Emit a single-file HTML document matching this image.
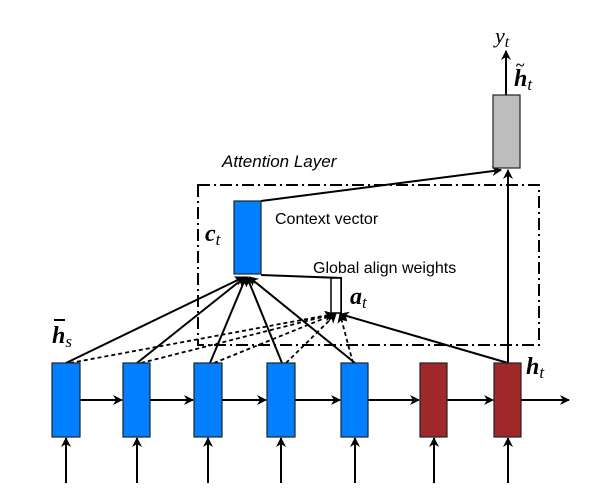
<!DOCTYPE html>
<html><head><meta charset="utf-8"><style>body{margin:0;background:#fff}svg{display:block}</style></head><body>
<svg width="613" height="502" viewBox="0 0 613 502" xmlns="http://www.w3.org/2000/svg" font-family="Liberation Sans, sans-serif">
<defs><marker id="a" markerWidth="10" markerHeight="10" refX="9" refY="5" orient="auto" markerUnits="userSpaceOnUse"><path d="M0,0 L10,5 L0,10 L3,5 z" fill="#000"/></marker></defs>
<rect x="198" y="185" width="341" height="160" fill="none" stroke="#000" stroke-width="2" stroke-dasharray="12,4,2,4"/>
<g stroke="#000" stroke-width="2" fill="none">
<line x1="80" y1="400" x2="122" y2="400" marker-end="url(#a)"/>
<line x1="150" y1="400" x2="193" y2="400" marker-end="url(#a)"/>
<line x1="222" y1="400" x2="266" y2="400" marker-end="url(#a)"/>
<line x1="295" y1="400" x2="340" y2="400" marker-end="url(#a)"/>
<line x1="368" y1="400" x2="419" y2="400" marker-end="url(#a)"/>
<line x1="447" y1="400" x2="493" y2="400" marker-end="url(#a)"/>
<line x1="521" y1="400" x2="569" y2="400" marker-end="url(#a)"/>
<line x1="66" y1="483" x2="66" y2="438" marker-end="url(#a)"/>
<line x1="137" y1="483" x2="137" y2="438" marker-end="url(#a)"/>
<line x1="208" y1="483" x2="208" y2="438" marker-end="url(#a)"/>
<line x1="281" y1="483" x2="281" y2="438" marker-end="url(#a)"/>
<line x1="355" y1="483" x2="355" y2="438" marker-end="url(#a)"/>
<line x1="434" y1="483" x2="434" y2="438" marker-end="url(#a)"/>
<line x1="508" y1="483" x2="508" y2="438" marker-end="url(#a)"/>
<line x1="66" y1="363" x2="244" y2="277" marker-end="url(#a)"/>
<line x1="137" y1="363" x2="245" y2="277" marker-end="url(#a)"/>
<line x1="210" y1="363" x2="246" y2="277" marker-end="url(#a)"/>
<line x1="282" y1="363" x2="247" y2="277" marker-end="url(#a)"/>
<line x1="355" y1="363" x2="249" y2="277" marker-end="url(#a)"/>
<line x1="508" y1="363" x2="340" y2="314" marker-end="url(#a)"/>
<polyline points="261,275 341,278 341,313"/>
<line x1="508" y1="363" x2="508" y2="170" marker-end="url(#a)"/>
<line x1="261" y1="201" x2="501" y2="170" marker-end="url(#a)"/>
<line x1="506" y1="95" x2="506" y2="51" marker-end="url(#a)"/>
</g>
<g stroke="#000" stroke-width="1.8" fill="none" stroke-dasharray="4,3">
<line x1="70" y1="363" x2="334" y2="314" marker-end="url(#a)"/>
<line x1="141" y1="363" x2="334" y2="314" marker-end="url(#a)"/>
<line x1="214" y1="363" x2="335" y2="314" marker-end="url(#a)"/>
<line x1="286" y1="363" x2="336" y2="314" marker-end="url(#a)"/>
<line x1="353" y1="363" x2="340" y2="314" marker-end="url(#a)"/>
</g>
<rect x="331" y="278" width="10" height="35" fill="#fff" stroke="#000" stroke-width="1.5"/>
<g stroke="#222" stroke-width="1.2">
<rect x="52" y="363" width="28" height="74" fill="#0080ff"/>
<rect x="123" y="363" width="27" height="74" fill="#0080ff"/>
<rect x="194" y="363" width="28" height="74" fill="#0080ff"/>
<rect x="267" y="363" width="28" height="74" fill="#0080ff"/>
<rect x="341" y="363" width="27" height="74" fill="#0080ff"/>
<rect x="420" y="363" width="27" height="74" fill="#a0282a"/>
<rect x="494" y="363" width="27" height="74" fill="#a0282a"/>
<rect x="234" y="201" width="27" height="73" fill="#0080ff"/>
<rect x="493" y="95" width="27" height="73" fill="#bdbdbd"/>
</g>
<g font-size="16">
<text x="222" y="167" font-style="italic" font-size="17">Attention Layer</text>
<text x="275" y="224">Context vector</text>
<text x="313" y="273">Global align weights</text>
</g>
<g font-family="Liberation Serif, serif" font-style="italic" font-weight="bold" font-size="24">
<text x="205" y="241">c<tspan font-size="17" font-weight="normal" dy="4">t</tspan></text>
<text x="350" y="304">a<tspan font-size="17" font-weight="normal" dy="4">t</tspan></text>
<text x="52" y="343">h<tspan font-size="17" font-weight="normal" dy="4">s</tspan></text>
<text x="526" y="374">h<tspan font-size="17" font-weight="normal" dy="4">t</tspan></text>
<text x="514" y="86">h<tspan font-size="17" font-weight="normal" dy="4">t</tspan></text>
<text x="495" y="43" font-weight="normal" font-size="22">y<tspan font-size="16" dy="4">t</tspan></text>
</g>
<line x1="54" y1="320" x2="65" y2="320" stroke="#000" stroke-width="2"/>
<text x="516" y="70" font-size="16" font-weight="bold" font-family="Liberation Serif, serif">~</text>
</svg>
</body></html>
